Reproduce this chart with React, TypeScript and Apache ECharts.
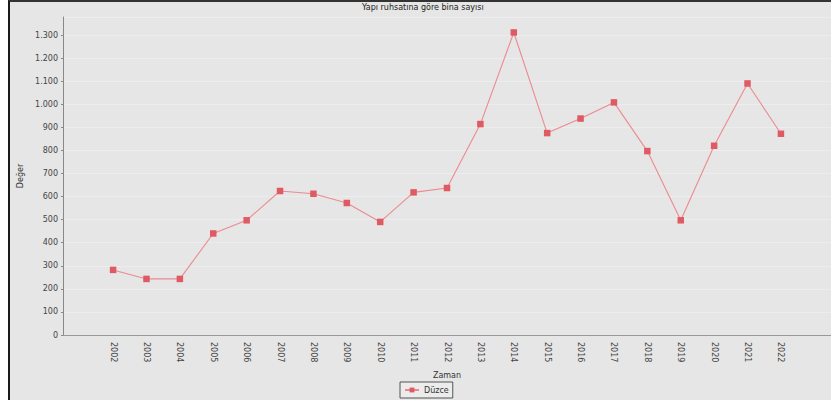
import React, { useEffect, useRef } from "react";
import * as echarts from "echarts";

const years: string[] = [
  "2002", "2003", "2004", "2005", "2006", "2007", "2008", "2009", "2010", "2011", "2012",
  "2013", "2014", "2015", "2016", "2017", "2018", "2019", "2020", "2021", "2022",
];
const duzce: number[] = [
  282, 243, 243, 440, 497, 624, 612, 572, 490, 618, 637,
  914, 1311, 875, 938, 1008, 797, 497, 820, 1090, 872,
];
const seriesName = "Düzce";
const titleText = "Yapı ruhsatına göre bina sayısı";
const yName = "Değer";
const xName = "Zaman";

const fmt = (v: number) => String(v).replace(/\B(?=(\d{3})+(?!\d))/g, ".");

export default function App() {
  const ref = useRef<HTMLDivElement>(null);
  useEffect(() => {
    if (!ref.current) return;
    const chart = echarts.init(ref.current, null, { renderer: "svg" });
    const cats = ["", ...years, ""];
    const data: (number | null)[] = [null, ...duzce, null];
    const font = "DejaVu Sans";
    chart.setOption({
      animation: false,
      backgroundColor: "transparent",
      title: {
        text: titleText,
        left: 362,
        top: 3,
        padding: 0,
        textStyle: { fontFamily: font, fontSize: 8, fontWeight: "normal", color: "#222" },
      },
      legend: {
        data: [seriesName],
        left: 400,
        top: 382,
        padding: [4, 4],
        borderColor: "#555",
        borderWidth: 1,
        backgroundColor: "#ececec",
        itemWidth: 14,
        itemHeight: 6,
        itemGap: 4,
        textStyle: { fontFamily: font, fontSize: 8, color: "#333" },
      },
      grid: { left: 63, right: 0, top: 17, bottom: 72, containLabel: false },
      xAxis: {
        type: "category",
        data: cats,
        boundaryGap: true,
        name: xName,
        nameLocation: "middle",
        nameGap: 36,
        nameTextStyle: { fontFamily: font, fontSize: 8, color: "#333" },
        axisLine: { lineStyle: { color: "#999", width: 1 } },
        axisTick: { show: false },
        axisLabel: {
          rotate: -90,
          margin: 7,
          interval: 0,
          fontFamily: font,
          fontSize: 8,
          color: "#444",
        },
        splitLine: { show: false },
      },
      yAxis: {
        type: "value",
        min: 0,
        max: 1378,
        interval: 100,
        name: yName,
        nameLocation: "middle",
        nameRotate: 90,
        nameGap: 35,
        nameTextStyle: { fontFamily: font, fontSize: 8, color: "#333" },
        axisLine: { show: true, lineStyle: { color: "#888", width: 1 } },
        axisTick: { show: true, length: 2, lineStyle: { color: "#888" } },
        axisLabel: {
          margin: 5,
          fontFamily: font,
          fontSize: 8,
          color: "#444",
          showMaxLabel: false,
          formatter: (v: number) => (v % 100 === 0 ? fmt(v) : ""),
        },
        splitLine: { show: true, lineStyle: { color: "#ededed", width: 1 } },
      },
      series: [
        {
          name: seriesName,
          type: "line",
          data,
          symbol: "rect",
          symbolSize: 6.5,
          lineStyle: { color: "#ec8a90", width: 1.1 },
          itemStyle: { color: "#e05a63" },
          connectNulls: false,
        },
      ],
    });
    return () => chart.dispose();
  }, []);
  return (
    <div style={{ position: "fixed", left: 0, top: 0, width: 831, height: 407, background: "#fff" }}>
      <div
        style={{
          position: "absolute",
          left: 8,
          top: 0,
          width: 821,
          height: 398,
          background: "#e6e6e6",
          borderLeft: "2px solid #1a1a1a",
          borderTop: "2px solid #333",
        }}
      />
      <div ref={ref} style={{ position: "absolute", left: 0, top: 0, width: 831, height: 407 }} />
    </div>
  );
}
